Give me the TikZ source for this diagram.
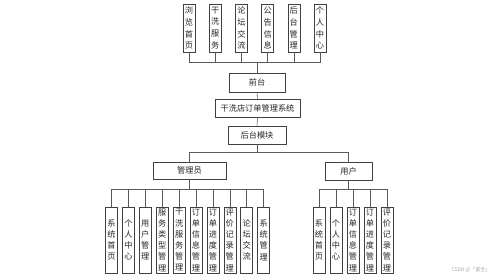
\documentclass[tikz,border=0pt]{standalone}
\usepackage{fontspec}
\newfontfamily\cjk{Noto Sans CJK SC}
\begin{document}
\begin{tikzpicture}[x=1pt,y=-1pt,
  box/.style={draw=black!75,line width=0.6pt,fill=white,inner sep=0pt,font=\cjk\fontsize{8.2}{11.2}\selectfont,text=black!85},
  vbox/.style={box,minimum width=12pt,align=center},
  hbox/.style={box},
  link/.style={draw=black!65,line width=0.6pt}]
\useasboundingbox (0,0) rectangle (499,278);
% top modules
\foreach \t [count=\i] in {浏\\览\\首\\页,干\\洗\\服\\务,论\\坛\\交\\流,公\\告\\信\\息,后\\台\\管\\理,个\\人\\中\\心}{
  \node[vbox,minimum height=48pt,font=\cjk\fontsize{8.2}{11.8}\selectfont] (t\i) at ({189+26.2*(\i-1)},28) {\t};
}
\node[hbox,minimum width=56pt,minimum height=19pt] (qt) at (257,82.5) {前台};
\node[hbox,minimum width=85pt,minimum height=18pt] (sys) at (257.5,108) {干洗店订单管理系统};
\node[hbox,minimum width=58pt,minimum height=18pt] (ht) at (257,135) {后台模块};
\node[hbox,minimum width=73pt,minimum height=17pt] (adm) at (189.5,170.5) {管理员};
\node[hbox,minimum width=47pt,minimum height=18pt] (usr) at (348.5,171) {用户};
% admin modules
\foreach \t [count=\i] in {系\\统\\首\\页,个\\人\\中\\心,用\\户\\管\\理,服\\务\\类\\型\\管\\理,干\\洗\\服\\务\\管\\理,订\\单\\信\\息\\管\\理,订\\单\\进\\度\\管\\理,评\\价\\记\\录\\管\\理,论\\坛\\交\\流,系\\统\\管\\理}{
  \node[vbox,minimum height=66pt] (a\i) at ({111.5+16.9*(\i-1)},240) {\t};
}
% user modules
\foreach \t [count=\i] in {系\\统\\首\\页,个\\人\\中\\心,订\\单\\信\\息\\管\\理,订\\单\\进\\度\\管\\理,评\\价\\记\\录\\管\\理}{
  \node[vbox,minimum height=66pt] (u\i) at ({319+17*(\i-1)},240) {\t};
}
% connectors
\coordinate (topbus) at (257,62);
\draw[link] (qt.north) -- (topbus);
\foreach \i in {1,...,6}{ \draw[link] (topbus) -| (t\i.south); }
\draw[link] (qt.south) -- (sys.north);
\draw[link] (sys.south) -- (ht.north);
\coordinate (midbus) at (257,152);
\draw[link] (ht.south) -- (midbus);
\draw[link] (midbus) -| (adm.north);
\draw[link] (midbus) -| (usr.north);
\coordinate (abus) at (189.5,189);
\draw[link] (adm.south) -- (abus);
\foreach \i in {1,...,10}{ \draw[link] (abus) -| (a\i.north); }
\coordinate (ubus) at (348.5,189);
\draw[link] (usr.south) -- (ubus);
\foreach \i in {1,...,5}{ \draw[link] (ubus) -| (u\i.north); }
\node[font=\cjk\fontsize{5}{6}\selectfont,text=black!35,anchor=east] (wm) at (494,270) {CSDN @「富全」};
\end{tikzpicture}
\end{document}
